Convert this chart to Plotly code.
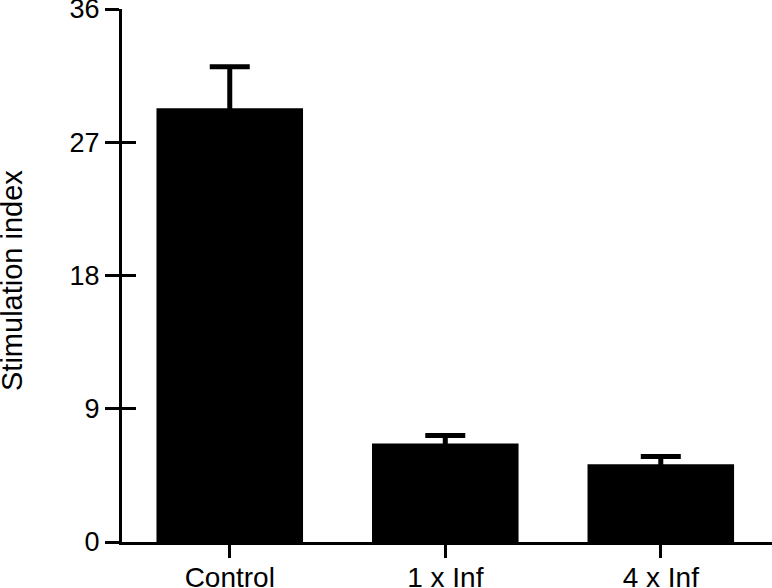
import plotly.graph_objects as go

# === données ===
categories = ["Control", "1 x Inf", "4 x Inf"]
means = [29.3, 6.65, 5.25]
sem = [2.8, 0.54, 0.52]
y_ticks = [0, 9, 18, 27, 36]

fig = go.Figure()

# barres + erreur (vers le haut, la partie basse est cachée dans la barre)
fig.add_trace(go.Bar(
    x=categories,
    y=means,
    width=0.68,
    marker=dict(color="black", line=dict(width=0)),
    error_y=dict(type="data", array=sem, symmetric=True,
                 color="black", thickness=5, width=20),
    showlegend=False,
    hoverinfo="skip",
))

# trace invisible pour l'axe y2 (ticks intérieurs)
fig.add_trace(go.Scatter(
    x=categories, y=means, yaxis="y2", mode="markers",
    marker=dict(opacity=0), showlegend=False, hoverinfo="skip",
))

font = dict(family="Liberation Sans, Arial, Helvetica", size=27, color="black")

fig.update_layout(
    width=772, height=588,
    margin=dict(l=122, r=0, t=9, b=46),
    plot_bgcolor="white", paper_bgcolor="white",
    font=font,
    xaxis=dict(
        range=[-0.5, 2.516],
        automargin=False,
        showline=True, linecolor="black", linewidth=3,
        ticks="outside", ticklen=13, tickwidth=3, tickcolor="black",
        ticklabelstandoff=-5,
        showgrid=False, zeroline=False,
        tickfont=dict(font, size=28),
    ),
    yaxis=dict(
        range=[0, 36],
        automargin=False,
        tickvals=y_ticks,
        ticklabeloverflow="allow",
        showline=True, linecolor="black", linewidth=3,
        ticks="outside", ticklen=14, tickwidth=3, tickcolor="black",
        showgrid=False, zeroline=False,
        tickfont=font,
    ),
    yaxis2=dict(
        range=[0, 36],
        automargin=False,
        tickvals=y_ticks,
        overlaying="y", side="left", anchor="x",
        showline=False,
        ticks="inside", ticklen=14, tickwidth=3, tickcolor="black",
        showticklabels=False, showgrid=False, zeroline=False,
    ),
)

# titre de l'axe y (annotation pour le coller au bord gauche)
fig.add_annotation(
    text="Stimulation index", textangle=-90, showarrow=False,
    xref="paper", yref="paper", x=-0.169, y=0.49,
    xanchor="center", yanchor="middle",
    font=dict(font, size=29),
)

# page sans marge pour que la figure occupe toute la fenêtre
fig.write_html("out.html", config={"displayModeBar": False},
               post_script="document.body.style.margin='0';")
